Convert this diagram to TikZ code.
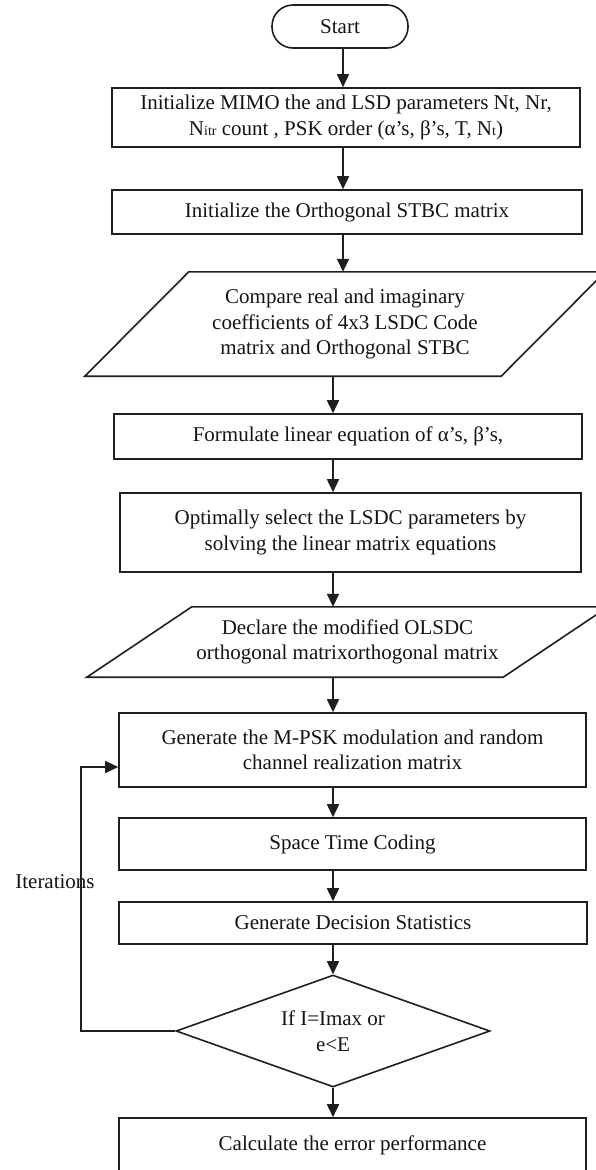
\documentclass[tikz,border=0pt]{standalone}
\usepackage{fontspec}
\setmainfont{Liberation Serif}
\usetikzlibrary{arrows.meta,shapes.geometric,calc}
\newcommand{\smtxt}[1]{{\fontsize{14}{14}\selectfont #1}}
\begin{document}
\begin{tikzpicture}[x=1pt,y=-1pt,
  every node/.style={font=\fontsize{21}{25.5}\selectfont, text=black!92},
  box/.style={draw=black!88, line width=1.6pt, rectangle, inner sep=0pt, align=center},
  para/.style={rectangle, inner sep=0pt, align=center},
  shp/.style={draw=black!88, line width=1.6pt},
  dec/.style={draw=black!88, line width=1.6pt, diamond, shape aspect=2.8, inner sep=0pt, align=center, minimum width=314pt, minimum height=112pt},
  arr/.style={draw=black!88, line width=1.6pt, -{Triangle[length=13pt,width=12pt]}},
  lbl/.style={inner sep=0pt}
]
\useasboundingbox (0,0) rectangle (595,1170);
\fill[white] (0,0) rectangle (595,1170);

\coordinate (ax1) at (343,0);
\coordinate (ax2) at (333,0);

\node[box, rounded corners=21pt, minimum width=136pt, minimum height=43pt] (start) at (340,26.5) {Start};
\node[box, minimum width=468pt, minimum height=59pt] (b1) at (346,117.5)
  {Initialize MIMO the and LSD parameters Nt, Nr,\\ N\smtxt{itr} count , PSK order (α’s, β’s, T, N\smtxt{t})};
\node[box, minimum width=470pt, minimum height=44pt] (b2) at (347,212) {Initialize the Orthogonal STBC matrix};
\node[para, minimum width=416pt, minimum height=104pt] (p1) at (345,324)
  {Compare real and imaginary\\ coefficients of 4x3 LSDC Code\\ matrix and Orthogonal STBC};
\draw[shp] ($(p1.north west)+(52,0)$) -- ($(p1.north east)+(52,0)$) -- ($(p1.south east)+(-52,0)$) -- ($(p1.south west)+(-52,0)$) -- cycle;
\node[box, minimum width=468pt, minimum height=45pt] (b3) at (348,436.5) {Formulate linear equation of α’s, β’s,};
\node[box, minimum width=461pt, minimum height=79pt] (b4) at (350.5,532.5)
  {Optimally select the LSDC parameters by\\ solving the linear matrix equations};
\node[para, minimum width=416pt, minimum height=70pt] (p2) at (347.5,642)
  {Declare the modified OLSDC\\ orthogonal matrixorthogonal matrix};
\draw[shp] ($(p2.north west)+(52.5,0)$) -- ($(p2.north east)+(52.5,0)$) -- ($(p2.south east)+(-52.5,0)$) -- ($(p2.south west)+(-52.5,0)$) -- cycle;
\node[box, minimum width=467pt, minimum height=74pt] (b5) at (352.5,750)
  {Generate the M-PSK modulation and random\\ channel realization matrix};
\node[box, minimum width=467pt, minimum height=52pt] (b6) at (352.5,844) {Space Time Coding};
\node[box, minimum width=468pt, minimum height=42pt] (b7) at (353,923) {Generate Decision Statistics};
\node[dec] (d) at (333,1031) {If I=Imax or\\ e<E};
\node[draw=black!88, line width=1.6pt, rectangle, inner xsep=0pt, inner ysep=0pt, minimum width=467pt, text height=32pt, text depth=40pt] (b8) at (352.5,1154) {Calculate the error performance};

\node[lbl] (it) at (55,882) {Iterations};

\coordinate (fb) at (81,767);

\draw[arr] (start.south -| ax1) -- (b1.north -| ax1);
\draw[arr] (b1.south -| ax1) -- (b2.north -| ax1);
\draw[arr] (b2.south -| ax1) -- (p1.north -| ax1);
\draw[arr] (p1.south -| ax2) -- (b3.north -| ax2);
\draw[arr] (b3.south -| ax2) -- (b4.north -| ax2);
\draw[arr] (b4.south -| ax2) -- (p2.north -| ax2);
\draw[arr] (p2.south -| ax2) -- (b5.north -| ax2);
\draw[arr] (b5.south -| ax2) -- (b6.north -| ax2);
\draw[arr] (b6.south -| ax2) -- (b7.north -| ax2);
\draw[arr] (b7.south -| d.north) -- (d.north);
\draw[arr] (d.south) -- (b8.north -| d.south);
\draw[arr] (d.west) -| (fb) -- (fb -| b5.west);
\end{tikzpicture}
\end{document}
